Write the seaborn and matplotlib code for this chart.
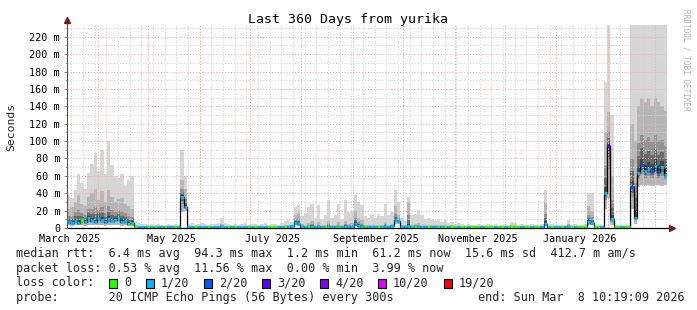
import numpy as np
import pandas as pd
import matplotlib
matplotlib.use("Agg")
import matplotlib.pyplot as plt
import matplotlib.dates as mdates
from matplotlib.patches import Rectangle
import seaborn as sns

# ---------------- data (2-day buckets) ----------------
END_TIME = "2026-03-08 10:19:09"
SPAN_DAYS = 360
BUCKET_DAYS = 2

median_ms = [
    7, 6, 8, 6, 9, 7, 11, 8, 7, 12,
    9, 7, 10, 8, 9, 11, 7, 8, 5, 6,
    1.4, 1.3, 1.2, 1.3, 1.3, 1.4, 1.3, 1.2, 1.3, 1.3,
    1.3, 1.4, 1.3, 1.3, 36, 24, 1.3, 1.2, 1.3, 1.3,
    1.3, 1.3, 1.2, 1.3, 1.4, 1.3, 1.5, 1.3, 1.2, 1.3,
    1.3, 1.3, 1.4, 1.3, 1.2, 1.3, 1.3, 1.3, 1.4, 1.3,
    1.2, 1.2, 1.3, 1.3, 1.4, 1.5, 1.6, 1.8, 6, 5,
    1.6, 1.5, 1.5, 1.6, 1.4, 1.5, 1.4, 1.4, 1.6, 1.4,
    1.5, 1.5, 1.4, 1.6, 1.5, 1.6, 5, 1.8, 1.6, 1.5,
    1.4, 1.5, 1.4, 1.4, 1.5, 1.6, 1.5, 1.8, 9, 8,
    1.6, 1.5, 1.8, 1.5, 1.4, 1.5, 1.5, 1.4, 1.4, 1.4,
    1.4, 1.3, 1.4, 1.3, 1.3, 1.3, 1.3, 1.3, 1.2, 1.2,
    1.3, 1.2, 1.2, 1.2, 1.3, 1.2, 1.2, 1.2, 1.2, 1.3,
    1.2, 1.2, 1.2, 1.3, 1.3, 1.2, 1.2, 1.3, 1.2, 1.2,
    1.2, 1.3, 1.4, 5, 1.4, 1.3, 1.3, 1.2, 1.3, 1.3,
    1.5, 1.3, 1.3, 1.2, 1.3, 1.4, 7, 6, 1.4, 1.3,
    1.3, 40, 94.3, 10, 1.3, 1.2, 1.3, 1.3, 1.2, 47,
    12, 63, 72, 65, 68, 66, 71, 64, 70, 61.2,
]

smoke_low = [
    3, 2.5, 3, 3.5, 3, 2.5, 3, 4, 3, 3.5,
    3, 2.5, 3, 3, 3.5, 3, 2.5, 3, 2, 2.5,
    0.9, 0.8, 0.7, 0.8, 0.8, 0.9, 0.8, 0.7, 0.8, 0.8,
    0.8, 0.9, 0.8, 0.8, 18, 20, 0.8, 0.7, 0.8, 0.8,
    0.8, 0.8, 0.7, 0.8, 0.9, 0.8, 0.9, 0.8, 0.7, 0.8,
    0.8, 0.8, 0.9, 0.8, 0.7, 0.8, 0.8, 0.8, 0.9, 0.8,
    0.7, 0.7, 0.8, 0.8, 0.9, 0.9, 1.0, 1.1, 3.5, 3,
    1.0, 0.9, 0.9, 1.0, 0.9, 0.9, 0.9, 0.9, 1.0, 0.9,
    0.9, 0.9, 0.9, 1.0, 0.9, 1.0, 3, 1.1, 1.0, 0.9,
    0.9, 0.9, 0.9, 0.9, 0.9, 1.0, 0.9, 1.1, 5, 4.5,
    1.0, 0.9, 1.1, 0.9, 0.9, 0.9, 0.9, 0.9, 0.9, 0.9,
    0.9, 0.8, 0.9, 0.8, 0.8, 0.8, 0.8, 0.8, 0.7, 0.7,
    0.8, 0.7, 0.7, 0.7, 0.8, 0.7, 0.7, 0.7, 0.7, 0.8,
    0.7, 0.7, 0.7, 0.8, 0.8, 0.7, 0.7, 0.8, 0.7, 0.7,
    0.7, 0.8, 0.9, 2.5, 0.9, 0.8, 0.8, 0.7, 0.8, 0.8,
    0.9, 0.8, 0.8, 0.7, 0.8, 0.9, 3.5, 3, 0.9, 0.8,
    0.8, 22, 35, 4, 0.8, 0.7, 0.8, 0.8, 0.7, 22,
    5, 47, 50, 48, 50, 48, 50, 49, 48, 50,
]

smoke_mid = [
    22, 24, 30, 38, 28, 25, 36, 40, 45, 32,
    42, 30, 44, 36, 30, 33, 35, 28, 25, 22,
    4, 2.2, 2, 2, 2, 2.2, 2, 2, 2, 2,
    2, 2.2, 2, 2.2, 55, 45, 2.2, 2.5, 2, 2,
    2.2, 2, 2, 2.2, 2, 2.2, 5, 2.2, 2, 2,
    2, 2.2, 2, 2, 2, 2, 2.2, 2, 2.2, 2,
    2, 2, 2, 2, 2.2, 3, 4, 3, 15, 17,
    5, 4, 6, 8, 4, 7, 3, 4, 8, 4,
    4, 7, 3, 8, 5, 6, 20, 12, 9, 4,
    4, 4, 3, 4, 4, 7, 4, 5, 25, 15,
    4, 3, 30, 4, 5, 6, 4, 3, 4, 3,
    3, 3, 3, 3, 2.5, 3, 2.5, 2.5, 2, 2,
    2, 2, 2, 2, 2, 2, 2, 2, 2, 2,
    2, 2, 2, 3, 3, 2, 2, 2, 2, 2,
    2, 2, 2.2, 30, 2.2, 2, 2, 2, 2, 2,
    5, 2, 2, 2, 2, 2.2, 25, 20, 2.2, 2,
    2, 110, 133, 60, 2, 2, 2, 2, 2, 120,
    100, 140, 150, 145, 150, 140, 150, 145, 140, 135,
]

smoke_high = [
    38, 35, 44, 62, 52, 45, 63, 74, 86, 65,
    90, 62, 100, 72, 60, 58, 62, 48, 55, 60,
    8, 6, 5, 5, 4, 5, 4, 5, 4, 4,
    5, 4, 5, 4, 90, 60, 5, 6, 4, 5,
    6, 5, 4, 5, 5, 6, 12, 6, 5, 4,
    5, 4, 5, 6, 4, 5, 5, 4, 5, 6,
    4, 5, 5, 4, 6, 8, 9, 7, 24, 27,
    14, 17, 24, 28, 12, 27, 10, 15, 32, 12,
    15, 28, 10, 32, 18, 20, 38, 30, 26, 14,
    12, 15, 12, 16, 14, 28, 15, 18, 44, 30,
    12, 8, 36, 15, 16, 21, 15, 10, 12, 9,
    8, 10, 7, 9, 6, 7, 5, 6, 5, 4,
    5, 4, 4, 5, 4, 4, 5, 4, 5, 4,
    4, 5, 4, 7, 6, 4, 5, 4, 4, 5,
    4, 4, 5, 44, 4, 5, 4, 4, 4, 4,
    9, 4, 5, 4, 4, 5, 40, 40, 4, 4,
    4, 168, 233, 130, 4, 4, 4, 4, 4, 233,
    233, 233, 233, 233, 233, 233, 233, 233, 233, 233,
]

# loss level index into loss_labels / loss_colors
loss_level = [
    1, 1, 1, 1, 0, 1, 1, 1, 1, 1,
    1, 1, 1, 1, 1, 1, 1, 1, 0, 1,
    0, 1, 1, 1, 0, 1, 0, 1, 1, 0,
    1, 1, 0, 1, 1, 1, 1, 1, 0, 1,
    1, 1, 0, 1, 1, 1, 1, 1, 0, 1,
    0, 1, 1, 1, 0, 1, 0, 1, 1, 1,
    0, 0, 0, 1, 1, 0, 1, 1, 1, 1,
    1, 1, 0, 1, 1, 1, 1, 0, 1, 1,
    1, 0, 1, 1, 1, 1, 1, 1, 1, 0,
    1, 1, 1, 0, 1, 1, 1, 1, 1, 1,
    1, 1, 1, 1, 0, 1, 1, 1, 0, 1,
    1, 0, 1, 0, 1, 0, 0, 1, 0, 0,
    1, 0, 0, 0, 1, 0, 0, 0, 1, 0,
    0, 1, 0, 0, 0, 0, 1, 0, 0, 1,
    0, 0, 1, 1, 1, 0, 1, 1, 0, 1,
    1, 0, 1, 0, 0, 0, 1, 1, 0, 0,
    1, 1, 3, 1, 0, 0, 1, 0, 0, 2,
    1, 1, 2, 1, 1, 2, 1, 2, 1, 1,
]

loss_labels = ["0", "1/20", "2/20", "3/20", "4/20", "10/20", "19/20"]
loss_colors = ["#26ff00", "#00b8ff", "#0059ff", "#5e00ff", "#7e00ff", "#dd00ff", "#ff0000"]

y_ticks = [0, 20, 40, 60, 80, 100, 120, 140, 160, 180, 200, 220]
y_tick_labels = ["0", "20 m", "40 m", "60 m", "80 m", "100 m", "120 m",
                 "140 m", "160 m", "180 m", "200 m", "220 m"]
x_label_dates = ["2025-03-15", "2025-05-15", "2025-07-15",
                 "2025-09-15", "2025-11-15", "2026-01-15"]
x_labels = ["March 2025", "May 2025", "July 2025",
            "September 2025", "November 2025", "January 2026"]

title_text = "Last 360 Days from yurika"
rtt_line = "median rtt:  6.4 ms avg  94.3 ms max  1.2 ms min  61.2 ms now  15.6 ms sd  412.7 m am/s"
loss_line = "packet loss: 0.53 % avg  11.56 % max  0.00 % min  3.99 % now"
probe_line = "probe:       20 ICMP Echo Pings (56 Bytes) every 300s"
end_line = "end: Sun Mar  8 10:19:09 2026"

# ---------------- figure ----------------
sns.set_theme(style="white")
plt.rcParams["font.family"] = ["DejaVu Sans Mono", "DejaVu Sans"]

W, H = 697, 310
fig = plt.figure(figsize=(W / 100, H / 100), dpi=100, facecolor="white")
ax = fig.add_axes([67 / W, (H - 228) / H, 600 / W, 203 / H])
ax.set_facecolor("white")

end_ts = pd.Timestamp(END_TIME)
start_ts = end_ts - pd.Timedelta(days=SPAN_DAYS)
n = len(median_ms)
edges = pd.date_range(start_ts, periods=n + 1, freq=f"{BUCKET_DAYS}D")
x = mdates.date2num(edges.to_pydatetime())

med = np.asarray(median_ms, float)
lo = np.asarray(smoke_low, float)
mid = np.asarray(smoke_mid, float)
hi = np.asarray(smoke_high, float)


def ext(a):
    return np.append(a, a[-1])


def band(lower, upper, color, z):
    ax.fill_between(x, ext(lower), ext(upper), step="post", color=color,
                    lw=0, zorder=z)


# smoke, light outside -> dark near the median
band(lo, hi, "#d6d6d6", 2.0)
band(lo, mid, "#b6b6b6", 2.1)
for f, c, z in [(0.45, "#939393", 2.2), (0.25, "#6a6a6a", 2.3), (0.1, "#444444", 2.4)]:
    band(med - (med - lo) * f, med + (mid - med) * f, c, z)

# grid (drawn above the smoke like rrdtool)
dot = (0, (1.2, 1.8))
weeks = pd.date_range("2025-03-16", end_ts, freq="7D")
for d in weeks:
    ax.axvline(mdates.date2num(d), color="#d2d2d2", lw=0.7, ls=dot, zorder=3)
for v in range(10, 234, 20):
    ax.axhline(v, color="#d2d2d2", lw=0.7, ls=dot, zorder=3)
months = pd.date_range("2025-04-01", "2026-03-01", freq="MS")
for d in months:
    ax.axvline(mdates.date2num(d), color="#f4abab", lw=0.7, ls=dot, zorder=3.1)
for v in y_ticks[1:]:
    ax.axhline(v, color="#f4abab", lw=0.7, ls=dot, zorder=3.1)

# median line (black steps) + loss-coloured median segments
sns.lineplot(x=x, y=ext(med), drawstyle="steps-post", color="black", lw=0.9,
             estimator=None, ax=ax, zorder=5)
ax.hlines(med, x[:-1], x[1:], colors=[loss_colors[k] for k in loss_level],
          lw=2.2, zorder=6)

ax.set_xlim(x[0], mdates.date2num(end_ts))
ax.set_ylim(0, 233.5)

ax.set_yticks(y_ticks)
ax.set_yticklabels(y_tick_labels)
ax.set_yticks(list(range(10, 231, 20)), minor=True)
ax.tick_params(axis="y", which="major", length=2.5, width=0.7, color="#888888",
               pad=2.5, labelsize=7.3, labelcolor="black", left=True, direction="out")
ax.tick_params(axis="y", which="minor", length=1.5, width=0.6, color="#aaaaaa", left=True)
ax.set_xticks(mdates.date2num(pd.to_datetime(x_label_dates).to_pydatetime()))
ax.set_xticklabels(x_labels)
ax.tick_params(axis="x", length=0, pad=4.2, labelsize=7.3, labelcolor="black")
ax.set_xlabel("")
ax.set_ylabel("")

for s in ["top", "right"]:
    ax.spines[s].set_visible(False)
ax.spines["left"].set_color("#555555")
ax.spines["left"].set_linewidth(0.8)
ax.spines["left"].set_zorder(7)
ax.spines["bottom"].set_color("black")
ax.spines["bottom"].set_linewidth(0.9)
ax.spines["bottom"].set_zorder(5.5)

# axis arrows
ax.plot([0, 0], [1.0, 1.02], transform=ax.transAxes, color="#555555", lw=0.8,
        clip_on=False, zorder=7)
ax.plot([0], [1.025], transform=ax.transAxes, marker="^", ms=4.5, color="#7a1a1a",
        clip_on=False, zorder=8, mec="#7a1a1a")
ax.plot([1.0, 1.006], [0, 0], transform=ax.transAxes, color="black", lw=0.9,
        clip_on=False, zorder=7)
ax.plot([1.0085], [0], transform=ax.transAxes, marker=">", ms=4.5, color="#7a1a1a",
        clip_on=False, zorder=8, mec="#7a1a1a")


def px(xp, yp):
    return xp / W, 1 - yp / H


fig.text(*px(348, 19), title_text, ha="center", va="center", fontsize=9.5, color="black")
fig.text(*px(11, 127), "Seconds", rotation=90, ha="center", va="center", fontsize=8.2)
fig.text(*px(686, 60), "RRDTOOL / TOBI OETIKER", rotation=270, ha="center", va="center",
         fontsize=5.6, color="#b4b4b4")

fig.text(*px(16, 254), rtt_line, ha="left", va="center", fontsize=8.5)
fig.text(*px(16, 268.5), loss_line, ha="left", va="center", fontsize=8.5)
fig.text(*px(16, 283), "loss color:", ha="left", va="center", fontsize=8.5)
fig.text(*px(16, 297.5), probe_line, ha="left", va="center", fontsize=8.5)
fig.text(*px(478, 297.5), end_line, ha="left", va="center", fontsize=8.5)

sq_x = [109, 146, 204, 262, 320, 378, 444]
for xs, lab, col in zip(sq_x, loss_labels, loss_colors):
    fig.add_artist(Rectangle(px(xs, 287.5), 8 / W, 9 / H, transform=fig.transFigure,
                             facecolor=col, edgecolor="black", lw=0.8))
    fig.text(*px(xs + 15, 283), lab, ha="left", va="center", fontsize=8.5)

fig.savefig("out.png", dpi=100, facecolor="white")
